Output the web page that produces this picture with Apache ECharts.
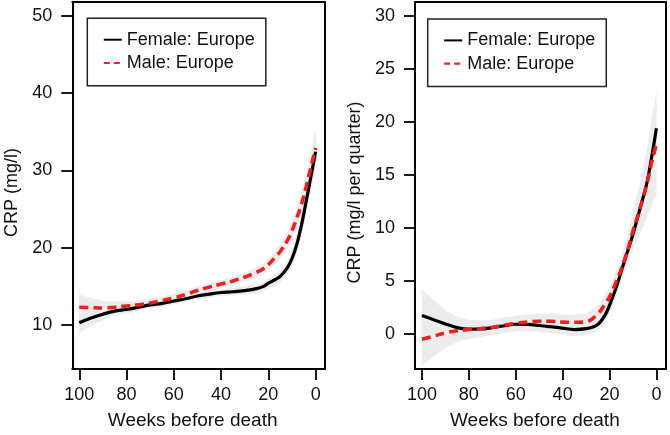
<!DOCTYPE html>
<html><head><meta charset="utf-8">
<script src="https://cdn.jsdelivr.net/npm/echarts@6/dist/echarts.min.js"></script>
<style>html,body{margin:0;padding:0;background:#fff}#c{width:670px;height:435px}</style>
</head><body><div id="c"></div>
<script>
// ---- data ----
const weeks = [100,95,90,85,80,75,70,65,60,55,50,45,40,35,30,25,22,20,17,15,12,10,8,6,4,2,0];
const xTicks = [100,80,60,40,20,0];
const yTicksLeft = [10,20,30,40,50];
const yTicksRight = [0,5,10,15,20,25,30];
const seriesNames = ['Female: Europe','Male: Europe'];
const xTitle = 'Weeks before death';
const yTitleLeft = 'CRP (mg/l)';
const yTitleRight = 'CRP (mg/l per quarter)';

const leftFemale = [10.3,10.9,11.4,11.8,12.0,12.3,12.6,12.8,13.1,13.4,13.75,14.0,14.2,14.3,14.45,14.7,15.0,15.4,15.9,16.3,17.4,18.6,20.4,22.9,26.0,29.2,32.4];
const leftMale   = [12.3,12.25,12.2,12.3,12.45,12.6,12.85,13.15,13.5,13.95,14.45,14.9,15.3,15.7,16.2,16.8,17.3,17.8,18.8,19.5,20.9,22.2,23.8,25.6,27.9,30.4,32.9];
const leftFemaleCI = [1.3,1.0,0.75,0.55,0.45,0.4,0.4,0.4,0.4,0.4,0.4,0.4,0.4,0.45,0.5,0.55,0.6,0.65,0.7,0.8,0.9,1.0,1.1,1.3,1.5,1.8,2.2];
const leftMaleCI   = [1.6,1.2,0.9,0.7,0.55,0.5,0.5,0.5,0.5,0.5,0.5,0.5,0.5,0.5,0.55,0.6,0.65,0.7,0.8,0.9,1.0,1.1,1.2,1.4,1.6,1.9,2.3];

const rightFemale = [1.75,1.35,0.95,0.6,0.45,0.47,0.6,0.78,0.92,0.9,0.8,0.68,0.55,0.42,0.5,0.9,1.75,2.7,4.5,5.9,8.0,9.4,11.0,12.6,14.3,16.7,19.4];
const rightMale   = [-0.5,-0.2,0.1,0.3,0.42,0.52,0.64,0.82,1.0,1.12,1.2,1.2,1.12,1.1,1.15,1.9,2.8,3.5,5.0,6.1,8.1,9.7,11.1,12.6,14.2,16.2,17.9];
const rightFemaleCI = [2.45,1.8,1.3,1.0,0.85,0.7,0.65,0.6,0.6,0.6,0.6,0.6,0.6,0.6,0.6,0.65,0.7,0.7,0.8,0.85,0.95,1.0,1.2,1.4,1.7,2.0,2.5];
const rightMaleCI   = [2.5,1.9,1.4,1.05,0.85,0.75,0.7,0.7,0.7,0.7,0.7,0.7,0.7,0.7,0.7,0.75,0.8,0.9,1.0,1.1,1.4,1.7,2.1,2.6,3.2,4.0,4.8];

// ---- styling ----
const FONT = "'Liberation Sans', Arial, Helvetica, sans-serif";
const BAND = '#ececec';
const RED = '#e8221e';
const SMOOTH = 0.4;

function pairs(vals){ return vals.map((v,i)=>[weeks[i], v]); }

// confidence band drawn as one polygon through the axes' own coordinate mapping
function band(g, vals, hw){
  return {type:'custom', xAxisIndex:g, yAxisIndex:g, silent:true, z:1, clip:true,
    data:[[weeks[0], vals[0]]],
    renderItem:function(params, api){
      const up = vals.map((v,i)=>api.coord([weeks[i], v + hw[i]]));
      const dn = vals.map((v,i)=>api.coord([weeks[i], v - hw[i]])).reverse();
      return {type:'polygon', shape:{points:up.concat(dn)}, style:{fill:BAND, stroke:BAND, lineWidth:0.5}};
    }};
}

function lines(g, f, m){
  return [
    {type:'line', name:seriesNames[0], xAxisIndex:g, yAxisIndex:g, data:pairs(f), symbol:'none',
      smooth:SMOOTH, z:4, lineStyle:{color:'#000', width:3.2}, itemStyle:{color:'#000'}},
    {type:'line', name:seriesNames[1], xAxisIndex:g, yAxisIndex:g, data:pairs(m), symbol:'none',
      smooth:SMOOTH, z:5, lineStyle:{color:RED, width:3.6, type:[9,5]}, itemStyle:{color:RED}}
  ];
}

const AX = {color:'#000', width:2};
function xAxis(g, min, max, padShift){
  return {type:'value', gridIndex:g, inverse:true, min:min, max:max, position:'bottom',
    axisLine:{show:true, onZero:false, lineStyle:AX}, splitLine:{show:false},
    axisTick:{show:true, length:11, customValues:xTicks, lineStyle:{color:'#000', width:1.8}},
    axisLabel:{customValues:xTicks, margin:17, color:'#111', fontSize:18, fontFamily:FONT},
    name:xTitle, nameLocation:'middle', nameGap:42,
    nameTextStyle:{color:'#111', fontSize:19, fontFamily:FONT, padding:[0,padShift,0,0]}};
}
function xTop(g, min, max){
  return {type:'value', gridIndex:g, inverse:true, min:min, max:max, position:'top',
    axisLine:{show:true, onZero:false, lineStyle:AX}, splitLine:{show:false},
    axisTick:{show:false}, axisLabel:{show:false}};
}
function yAxis(g, min, max, ticks, title){
  return {type:'value', gridIndex:g, min:min, max:max, position:'left',
    axisLine:{show:true, onZero:false, lineStyle:AX}, splitLine:{show:false},
    axisTick:{show:true, length:11, customValues:ticks, lineStyle:{color:'#000', width:1.8}},
    axisLabel:{customValues:ticks, margin:20, color:'#111', fontSize:18, fontFamily:FONT},
    name:title, nameLocation:'middle', nameGap:51,
    nameTextStyle:{color:'#111', fontSize:18, fontFamily:FONT, padding:[0,14,0,0]}};
}
function yRight(g, min, max){
  return {type:'value', gridIndex:g, min:min, max:max, position:'right',
    axisLine:{show:true, onZero:false, lineStyle:AX}, splitLine:{show:false},
    axisTick:{show:false}, axisLabel:{show:false}};
}
function legend(left, top){
  const hide = {color:'rgba(0,0,0,0)', borderWidth:0, opacity:0};
  return {show:true, orient:'vertical', left:left, top:top,
    data:[
      {name:seriesNames[0], itemStyle:hide, lineStyle:{color:'#000', width:2}},
      {name:seriesNames[1], itemStyle:hide, lineStyle:{color:RED, width:2.2, type:[6,4]}}
    ],
    itemWidth:18, itemHeight:12, itemGap:1.3,
    padding:[10.4, 11, 11.7, 15.4],
    borderColor:'#222', borderWidth:1.5, backgroundColor:'#fff',
    selectedMode:false,
    textStyle:{color:'#111', fontSize:18, fontFamily:FONT, lineHeight:22}};
}

const XMIN = -3.96, XMAX = 102.96;
const chart = echarts.init(document.getElementById('c'), null, {renderer:'canvas'});
chart.setOption({
  animation:false,
  backgroundColor:'#fff',
  grid:[
    {left:72.3, top:2, width:252.7, height:367},
    {left:415, top:2, width:250.7, height:367}
  ],
  xAxis:[ xAxis(0, XMIN, XMAX, 12), xAxis(1, XMIN, XMAX, 11), xTop(0, XMIN, XMAX), xTop(1, XMIN, XMAX) ],
  yAxis:[ yAxis(0, 4.31, 51.77, yTicksLeft, yTitleLeft), yAxis(1, -3.3, 31.29, yTicksRight, yTitleRight),
          yRight(0, 4.31, 51.77), yRight(1, -3.3, 31.29) ],
  legend:[ legend(87.3, 18.3), legend(427.7, 19) ],
  series:[].concat(
    [band(0, leftFemale, leftFemaleCI), band(0, leftMale, leftMaleCI),
     band(1, rightFemale, rightFemaleCI), band(1, rightMale, rightMaleCI)],
    lines(0, leftFemale, leftMale),
    lines(1, rightFemale, rightMale)
  )
});
</script>
</body></html>
